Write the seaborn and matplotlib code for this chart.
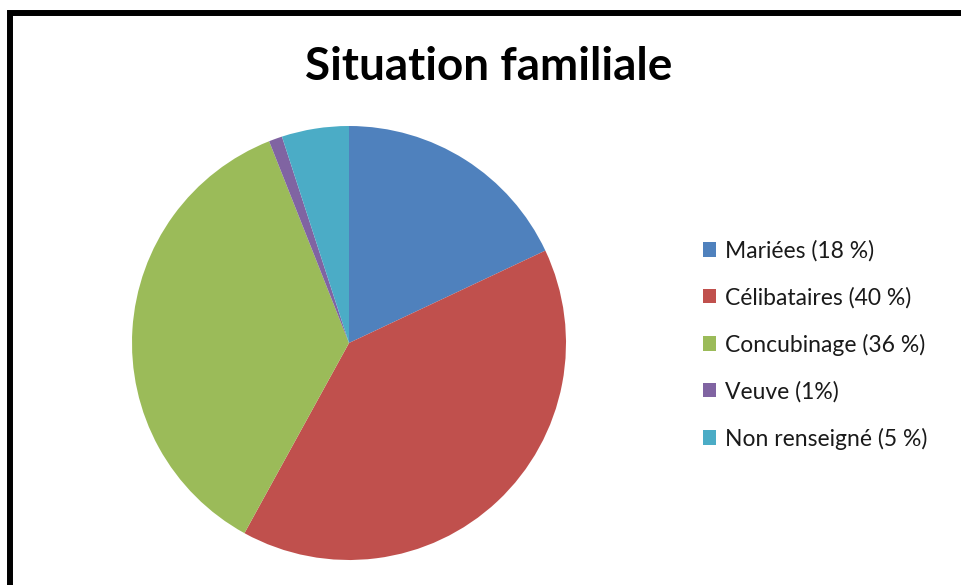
import matplotlib
matplotlib.use("Agg")
import matplotlib.pyplot as plt
from matplotlib.patches import Patch, Rectangle
import seaborn as sns

categories = ["Mariées (18 %)", "Célibataires (40 %)", "Concubinage (36 %)",
              "Veuve (1%)", "Non renseigné (5 %)"]
values = [18, 40, 36, 1, 5]
colors = ["#4F81BD", "#C0504D", "#9BBB59", "#8064A2", "#4BACC6"]
title = "Situation familiale"

sns.set_theme(style="white")
plt.rcParams['font.family'] = ['Lato', 'DejaVu Sans']
palette = sns.color_palette(colors)

W, H = 962, 585
fig = plt.figure(figsize=(W / 100, H / 100), dpi=100)
fig.patch.set_facecolor("white")

# outer frame
fig.add_artist(Rectangle((10 / W, -0.1), 1.2, (H - 13) / H + 0.1,
                         transform=fig.transFigure, fill=False,
                         edgecolor="black", linewidth=4.3, clip_on=False))

cx, cy, r = 349, 343, 217
ax = fig.add_axes([(cx - r) / W, (H - cy - r) / H, 2 * r / W, 2 * r / H])
ax.pie(values, colors=palette, startangle=90, counterclock=False, radius=1,
       wedgeprops=dict(linewidth=0, antialiased=True))
ax.set_xlim(-1, 1)
ax.set_ylim(-1, 1)
ax.set_aspect("equal")
ax.axis("off")

fig.text(489 / W, 1 - 80 / H, title, ha="center", va="baseline",
         fontsize=33, fontweight="bold", color="black")

handles = [Patch(facecolor=c, edgecolor="none") for c in palette]
leg = fig.legend(handles, categories, loc="upper left",
                 bbox_to_anchor=(703 / W, 1 - 240 / H), frameon=False,
                 fontsize=16.5, handlelength=0.58, handleheight=0.58,
                 handletextpad=0.4, labelspacing=1.1, borderpad=0,
                 borderaxespad=0)
for t in leg.get_texts():
    t.set_color("#1a1a1a")

fig.savefig("out.png", dpi=100, facecolor="white")
